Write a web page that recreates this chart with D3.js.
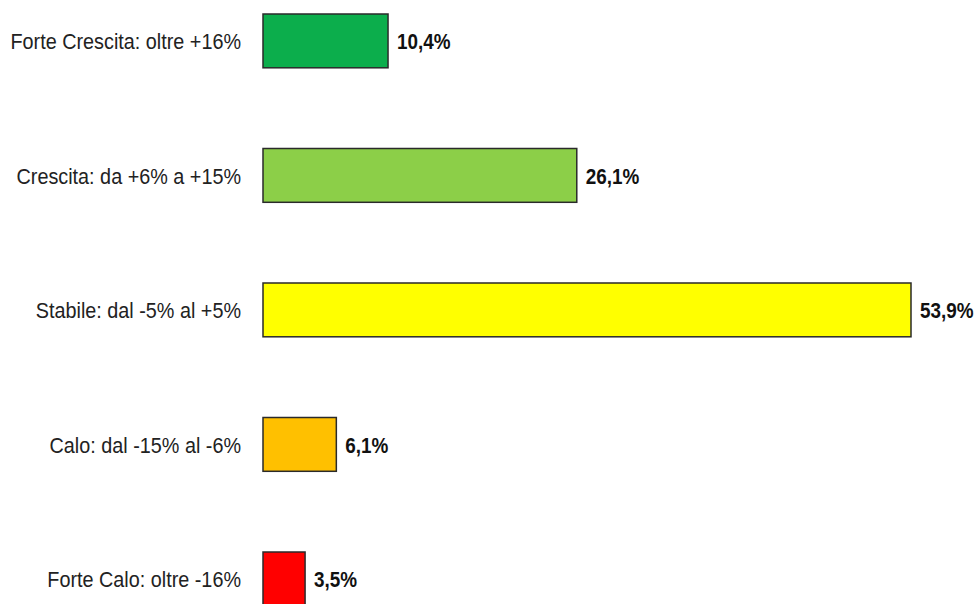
<!DOCTYPE html>
<html>
<head>
<meta charset="utf-8">
<script src="https://cdn.jsdelivr.net/npm/d3@7"></script>
<style>
  html, body { margin: 0; padding: 0; background: #fff; }
  svg { display: block; }
  .cat { font-family: "Liberation Sans", Arial, sans-serif; font-size: 22.5px; fill: #222; }
  .val { font-family: "Liberation Sans", Arial, sans-serif; font-size: 22.5px; font-weight: bold; fill: #111; }
</style>
</head>
<body>
<svg id="chart" width="979" height="604"></svg>
<script>
// Distribution of responses by expected change
const categories = [
  "Forte Crescita: oltre +16%",
  "Crescita: da +6% a +15%",
  "Stabile: dal -5% al +5%",
  "Calo: dal -15% al -6%",
  "Forte Calo: oltre -16%"
];
const values = [10.4, 26.1, 53.9, 6.1, 3.5];
const valueLabels = ["10,4%", "26,1%", "53,9%", "6,1%", "3,5%"];
const colors = ["#0cae4c", "#8ccf48", "#ffff00", "#ffc000", "#ff0000"];

const svg = d3.select("#chart");

const x = d3.scaleLinear()
  .domain([0, d3.max(values)])
  .range([263, 911]);

const step = 134.5;
const y = d3.scaleBand()
  .domain(categories)
  .range([14 - 0.3 * step, 14 - 0.3 * step + categories.length * step])
  .paddingInner(0.6)
  .paddingOuter(0.3);

const rows = categories.map((c, i) => ({ c, v: values[i], label: valueLabels[i], color: colors[i] }));

const g = svg.append("g");

g.selectAll("rect.bar")
  .data(rows)
  .join("rect")
  .attr("class", "bar")
  .attr("x", x(0))
  .attr("y", d => y(d.c))
  .attr("width", d => x(d.v) - x(0))
  .attr("height", y.bandwidth())
  .attr("fill", d => d.color)
  .attr("stroke", "#2a2a2a")
  .attr("stroke-width", 1.5);

// condensed lettering: horizontal squeeze of a regular sans face
g.selectAll("text.cat")
  .data(rows)
  .join("text")
  .attr("class", "cat")
  .attr("transform", d => `translate(241,${y(d.c) + y.bandwidth() / 2}) scale(0.88,1)`)
  .attr("dy", "0.36em")
  .attr("text-anchor", "end")
  .text(d => d.c);

g.selectAll("text.val")
  .data(rows)
  .join("text")
  .attr("class", "val")
  .attr("transform", d => `translate(${x(d.v) + 9},${y(d.c) + y.bandwidth() / 2}) scale(0.84,1)`)
  .attr("dy", "0.36em")
  .text(d => d.label);
</script>
</body>
</html>
